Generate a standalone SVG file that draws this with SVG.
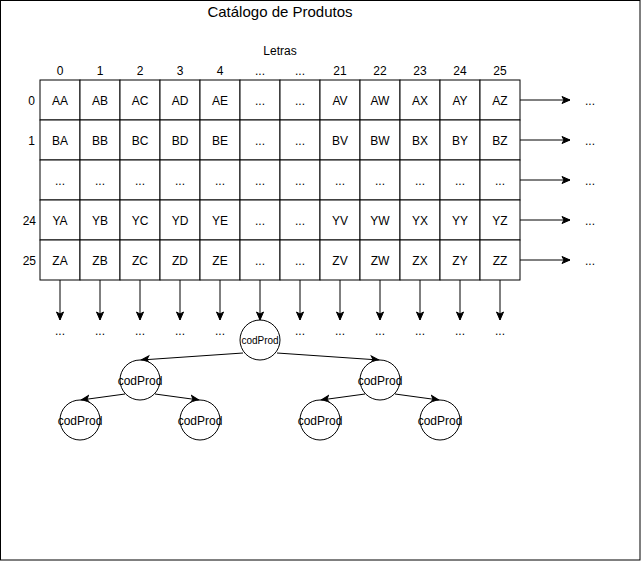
<svg xmlns="http://www.w3.org/2000/svg" width="641" height="561" viewBox="0 0 641 561">
<defs>
<style>
text{font-family:"Liberation Sans",Arial,sans-serif;font-size:12px;fill:#000;text-anchor:middle}
.cell rect{fill:#fff;stroke:#000;stroke-width:1}
.node circle{fill:#fff;stroke:#000;stroke-width:1}
.conn line{stroke:#000;stroke-width:1;fill:none;marker-end:url(#arr)}
.title{font-size:15px}
.small{font-size:10px}
.lbl{text-anchor:end}
</style>
<marker id="arr" markerUnits="userSpaceOnUse" markerWidth="10" markerHeight="10" viewBox="0 0 10 10" refX="9" refY="5" orient="auto">
<path d="M1,1.5 L9,5 L1,8.5 L3,5 Z" fill="#000" stroke="#000" stroke-width="1"/>
</marker>
</defs>
<rect x="0.5" y="0.5" width="639.5" height="559.5" fill="#fff" stroke="#000"/>
<text class="title" x="280" y="17">Catálogo de Produtos</text>
<text x="280" y="55">Letras</text>
<g id="colheaders">
<text x="60" y="75">0</text><text x="100" y="75">1</text><text x="140" y="75">2</text><text x="180" y="75">3</text><text x="220" y="75">4</text><text x="260" y="75">...</text><text x="300" y="75">...</text><text x="340" y="75">21</text><text x="380" y="75">22</text><text x="420" y="75">23</text><text x="460" y="75">24</text><text x="500" y="75">25</text>
</g>
<g id="rowheaders">
<text class="lbl" x="35" y="105">0</text><text class="lbl" x="35" y="145">1</text><text class="lbl" x="36" y="225">24</text><text class="lbl" x="36" y="265">25</text>
</g>
<g id="connectors" class="conn">
<line x1="520" y1="100" x2="570" y2="100"/>
<line x1="520" y1="140" x2="570" y2="140"/>
<line x1="520" y1="180" x2="570" y2="180"/>
<line x1="520" y1="220" x2="570" y2="220"/>
<line x1="520" y1="260" x2="570" y2="260"/>
<line x1="60" y1="280" x2="60" y2="320"/>
<line x1="100" y1="280" x2="100" y2="320"/>
<line x1="140" y1="280" x2="140" y2="320"/>
<line x1="180" y1="280" x2="180" y2="320"/>
<line x1="220" y1="280" x2="220" y2="320"/>
<line x1="260" y1="280" x2="260" y2="320"/>
<line x1="300" y1="280" x2="300" y2="320"/>
<line x1="340" y1="280" x2="340" y2="320"/>
<line x1="380" y1="280" x2="380" y2="320"/>
<line x1="420" y1="280" x2="420" y2="320"/>
<line x1="460" y1="280" x2="460" y2="320"/>
<line x1="500" y1="280" x2="500" y2="320"/>
<line x1="243" y1="353" x2="141" y2="360"/>
<line x1="277" y1="353" x2="379" y2="360"/>
<line x1="125" y1="394" x2="81" y2="400"/>
<line x1="155" y1="394" x2="199" y2="400"/>
<line x1="365" y1="394" x2="321" y2="400"/>
<line x1="395" y1="394" x2="439" y2="400"/>
</g>
<g id="grid">
<g id="r0" class="cell">
<rect x="40" y="80" width="40" height="40"/><text x="60" y="105">AA</text>
<rect x="80" y="80" width="40" height="40"/><text x="100" y="105">AB</text>
<rect x="120" y="80" width="40" height="40"/><text x="140" y="105">AC</text>
<rect x="160" y="80" width="40" height="40"/><text x="180" y="105">AD</text>
<rect x="200" y="80" width="40" height="40"/><text x="220" y="105">AE</text>
<rect x="240" y="80" width="40" height="40"/><text x="260" y="105">...</text>
<rect x="280" y="80" width="40" height="40"/><text x="300" y="105">...</text>
<rect x="320" y="80" width="40" height="40"/><text x="340" y="105">AV</text>
<rect x="360" y="80" width="40" height="40"/><text x="380" y="105">AW</text>
<rect x="400" y="80" width="40" height="40"/><text x="420" y="105">AX</text>
<rect x="440" y="80" width="40" height="40"/><text x="460" y="105">AY</text>
<rect x="480" y="80" width="40" height="40"/><text x="500" y="105">AZ</text>
</g>
<g id="r1" class="cell">
<rect x="40" y="120" width="40" height="40"/><text x="60" y="145">BA</text>
<rect x="80" y="120" width="40" height="40"/><text x="100" y="145">BB</text>
<rect x="120" y="120" width="40" height="40"/><text x="140" y="145">BC</text>
<rect x="160" y="120" width="40" height="40"/><text x="180" y="145">BD</text>
<rect x="200" y="120" width="40" height="40"/><text x="220" y="145">BE</text>
<rect x="240" y="120" width="40" height="40"/><text x="260" y="145">...</text>
<rect x="280" y="120" width="40" height="40"/><text x="300" y="145">...</text>
<rect x="320" y="120" width="40" height="40"/><text x="340" y="145">BV</text>
<rect x="360" y="120" width="40" height="40"/><text x="380" y="145">BW</text>
<rect x="400" y="120" width="40" height="40"/><text x="420" y="145">BX</text>
<rect x="440" y="120" width="40" height="40"/><text x="460" y="145">BY</text>
<rect x="480" y="120" width="40" height="40"/><text x="500" y="145">BZ</text>
</g>
<g id="r2" class="cell">
<rect x="40" y="160" width="40" height="40"/><text x="60" y="185">...</text>
<rect x="80" y="160" width="40" height="40"/><text x="100" y="185">...</text>
<rect x="120" y="160" width="40" height="40"/><text x="140" y="185">...</text>
<rect x="160" y="160" width="40" height="40"/><text x="180" y="185">...</text>
<rect x="200" y="160" width="40" height="40"/><text x="220" y="185">...</text>
<rect x="240" y="160" width="40" height="40"/><text x="260" y="185">...</text>
<rect x="280" y="160" width="40" height="40"/><text x="300" y="185">...</text>
<rect x="320" y="160" width="40" height="40"/><text x="340" y="185">...</text>
<rect x="360" y="160" width="40" height="40"/><text x="380" y="185">...</text>
<rect x="400" y="160" width="40" height="40"/><text x="420" y="185">...</text>
<rect x="440" y="160" width="40" height="40"/><text x="460" y="185">...</text>
<rect x="480" y="160" width="40" height="40"/><text x="500" y="185">...</text>
</g>
<g id="r24" class="cell">
<rect x="40" y="200" width="40" height="40"/><text x="60" y="225">YA</text>
<rect x="80" y="200" width="40" height="40"/><text x="100" y="225">YB</text>
<rect x="120" y="200" width="40" height="40"/><text x="140" y="225">YC</text>
<rect x="160" y="200" width="40" height="40"/><text x="180" y="225">YD</text>
<rect x="200" y="200" width="40" height="40"/><text x="220" y="225">YE</text>
<rect x="240" y="200" width="40" height="40"/><text x="260" y="225">...</text>
<rect x="280" y="200" width="40" height="40"/><text x="300" y="225">...</text>
<rect x="320" y="200" width="40" height="40"/><text x="340" y="225">YV</text>
<rect x="360" y="200" width="40" height="40"/><text x="380" y="225">YW</text>
<rect x="400" y="200" width="40" height="40"/><text x="420" y="225">YX</text>
<rect x="440" y="200" width="40" height="40"/><text x="460" y="225">YY</text>
<rect x="480" y="200" width="40" height="40"/><text x="500" y="225">YZ</text>
</g>
<g id="r25" class="cell">
<rect x="40" y="240" width="40" height="40"/><text x="60" y="265">ZA</text>
<rect x="80" y="240" width="40" height="40"/><text x="100" y="265">ZB</text>
<rect x="120" y="240" width="40" height="40"/><text x="140" y="265">ZC</text>
<rect x="160" y="240" width="40" height="40"/><text x="180" y="265">ZD</text>
<rect x="200" y="240" width="40" height="40"/><text x="220" y="265">ZE</text>
<rect x="240" y="240" width="40" height="40"/><text x="260" y="265">...</text>
<rect x="280" y="240" width="40" height="40"/><text x="300" y="265">...</text>
<rect x="320" y="240" width="40" height="40"/><text x="340" y="265">ZV</text>
<rect x="360" y="240" width="40" height="40"/><text x="380" y="265">ZW</text>
<rect x="400" y="240" width="40" height="40"/><text x="420" y="265">ZX</text>
<rect x="440" y="240" width="40" height="40"/><text x="460" y="265">ZY</text>
<rect x="480" y="240" width="40" height="40"/><text x="500" y="265">ZZ</text>
</g>
</g>
<g id="rightdots">
<text x="590" y="105">...</text><text x="590" y="145">...</text><text x="590" y="185">...</text><text x="590" y="225">...</text><text x="590" y="265">...</text>
</g>
<g id="bottomdots">
<text x="60" y="335">...</text><text x="100" y="335">...</text><text x="140" y="335">...</text><text x="180" y="335">...</text><text x="220" y="335">...</text><text x="300" y="335">...</text><text x="340" y="335">...</text><text x="380" y="335">...</text><text x="420" y="335">...</text><text x="460" y="335">...</text><text x="500" y="335">...</text>
</g>
<g id="n-root" class="node"><circle cx="260" cy="340" r="20"/><text class="small" x="260" y="344">codProd</text></g>
<g id="n-l" class="node"><circle cx="140" cy="380" r="20"/><text x="140" y="385">codProd</text></g>
<g id="n-r" class="node"><circle cx="380" cy="380" r="20"/><text x="380" y="385">codProd</text></g>
<g id="n-ll" class="node"><circle cx="80" cy="420" r="20"/><text x="80" y="425">codProd</text></g>
<g id="n-lr" class="node"><circle cx="200" cy="420" r="20"/><text x="200" y="425">codProd</text></g>
<g id="n-rl" class="node"><circle cx="320" cy="420" r="20"/><text x="320" y="425">codProd</text></g>
<g id="n-rr" class="node"><circle cx="440" cy="420" r="20"/><text x="440" y="425">codProd</text></g>
</svg>
